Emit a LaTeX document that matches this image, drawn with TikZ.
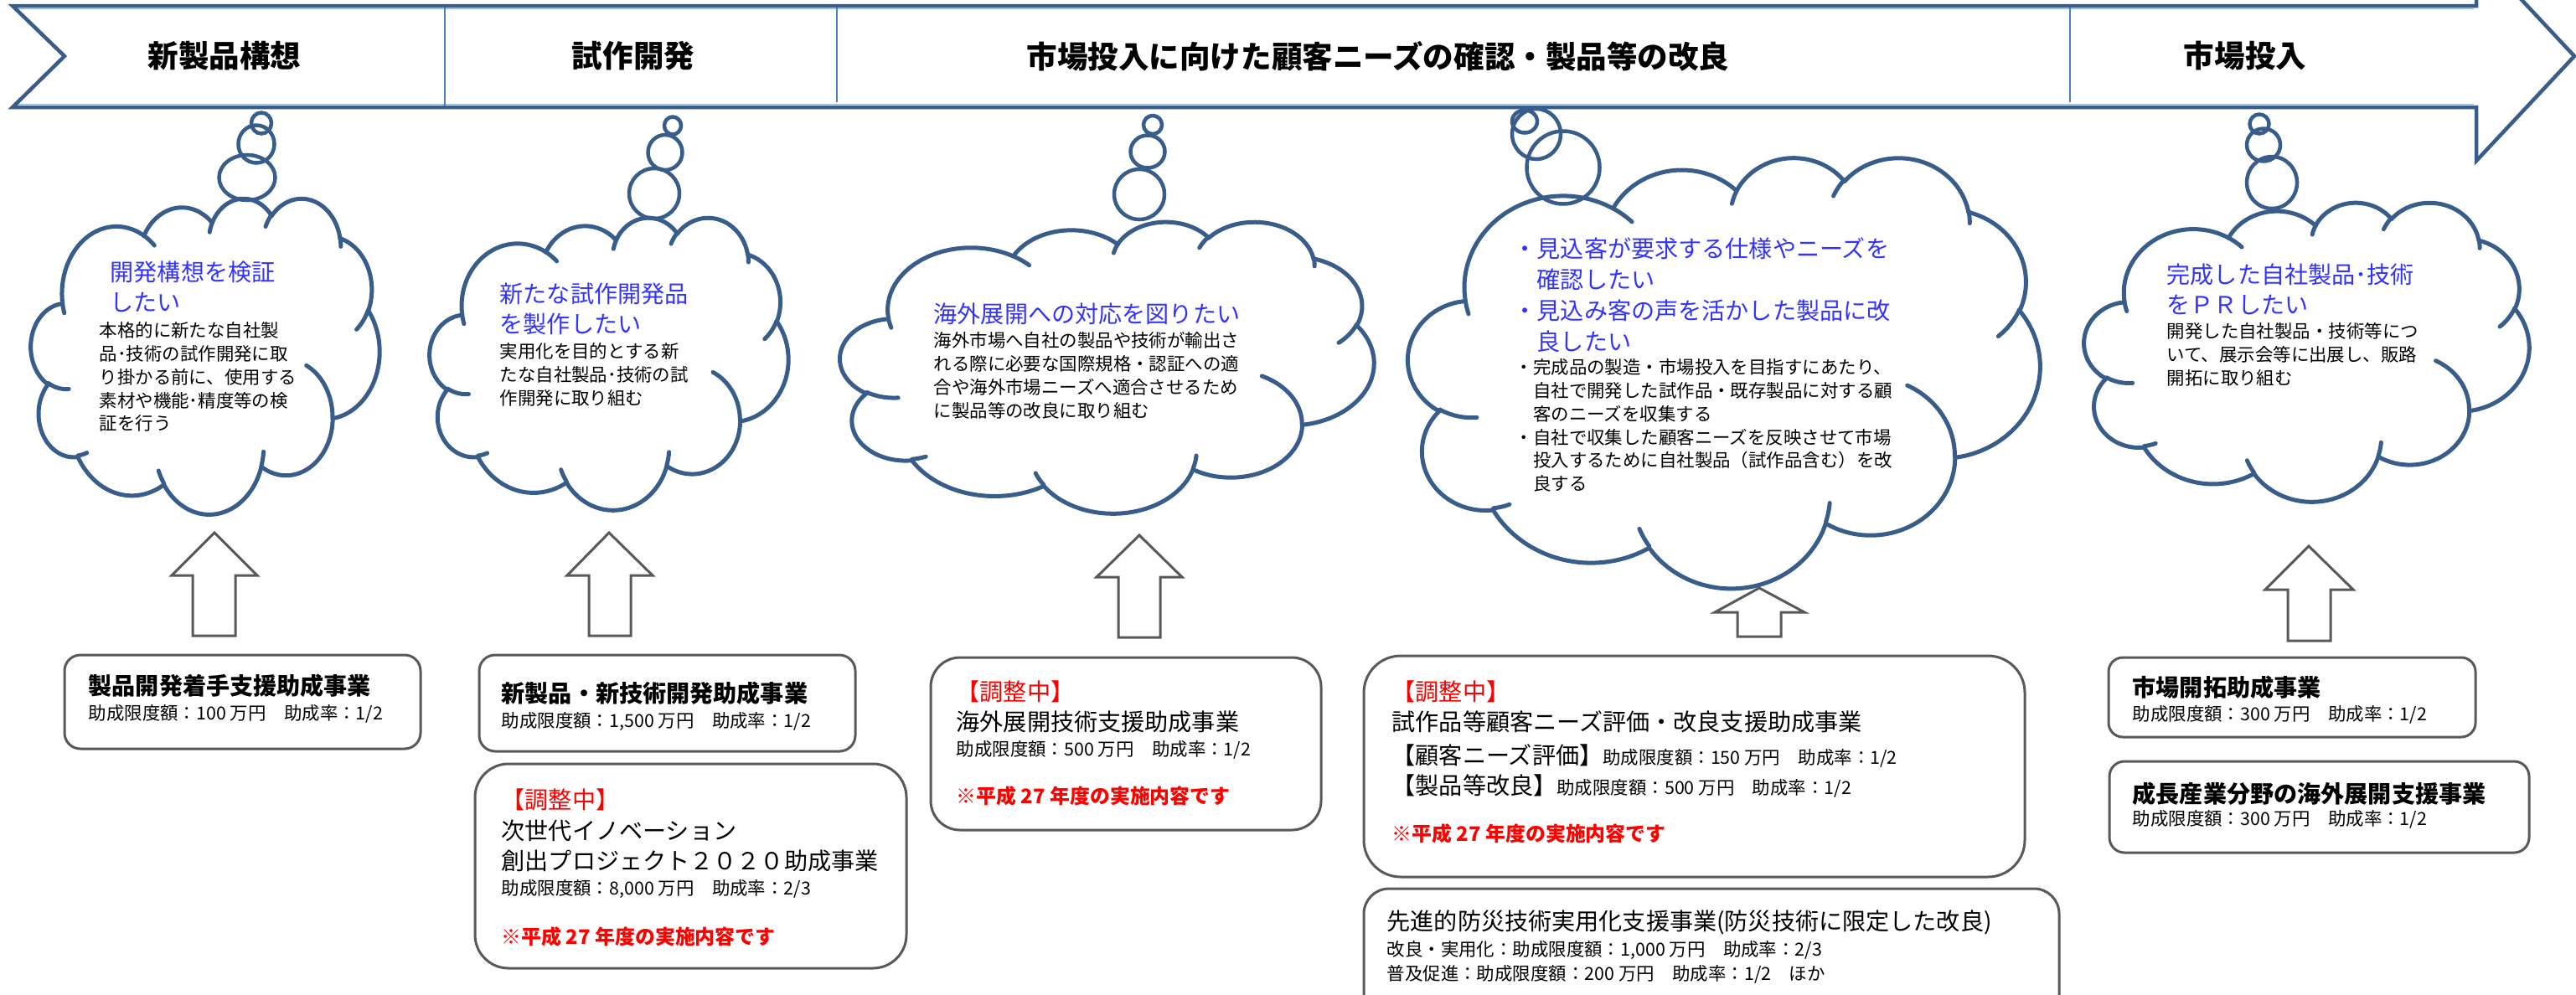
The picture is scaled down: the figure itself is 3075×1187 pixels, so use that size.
\documentclass[tikz,border=0pt]{standalone}
\usepackage{fontspec}
\newfontfamily\jp{Noto Sans CJK JP}
\definecolor{bandline}{RGB}{56,93,138}
\definecolor{bandlight}{RGB}{149,179,215}
\definecolor{divider}{RGB}{79,129,189}
\definecolor{cloudline}{RGB}{56,93,138}
\definecolor{wishblue}{RGB}{51,51,255}
\definecolor{boxgray}{RGB}{89,89,89}
\tikzset{
  phase/.style={inner sep=0, font=\jp\bfseries\fontsize{10.4}{12}\selectfont},
  puff/.style={draw=cloudline, line width=0.5mm, line cap=round},
  bubble/.style={draw=cloudline, line width=0.45mm},
  wish/.style={anchor=north west, inner sep=0, align=left, text=wishblue,
    font=\jp\fontsize{8}{10.4}\selectfont},
  detail/.style={anchor=north west, inner sep=0, align=left,
    font=\jp\fontsize{6.1}{7.9}\selectfont},
  aidbox/.style={draw=boxgray, line width=0.3mm},
  aidname/.style={anchor=north west, inner sep=0, align=left,
    font=\jp\fontsize{8}{10.3}\selectfont},
  aidbold/.style={aidname, font=\jp\bfseries\fontsize{8}{10.3}\selectfont},
  rate/.style={anchor=north west, inner sep=0, align=left,
    font=\jp\fontsize{6.1}{8.3}\selectfont},
  pending/.style={aidname, text=red},
  note/.style={anchor=north west, inner sep=0, text=red,
    font=\jp\bfseries\fontsize{6.8}{8}\selectfont},
  uparrow/.style={draw=boxgray, line width=0.3mm, fill=white}
}
% one puff: start x, start y, x radius, y radius, start angle, sweep
\newcommand\cloudarc[6]{%
  \pgfmathsetmacro\ts{atan2(#3*sin(#5),#4*cos(#5))}%
  \pgfmathsetmacro\te{atan2(#3*sin(#5+#6),#4*cos(#5+#6))}%
  \pgfmathsetmacro\te{\te<\ts ? \te+360 : \te}%
  \pgfmathsetmacro\cx{#1-#3*cos(\ts)}%
  \pgfmathsetmacro\cy{#2-#4*sin(\ts)}%
  \draw[puff] plot[smooth, samples=24, domain=\ts:\te, variable=\u]
    ({\cx+#3*cos(\u)},{\cy+#4*sin(\u)});
  \pgfmathsetmacro\nx{\cx+#3*cos(\te)}%
  \pgfmathsetmacro\ny{\cy+#4*sin(\te)}%
  \xdef\puffx{\nx}\xdef\puffy{\ny}}
% thought cloud in a 43.2 x 43.2 box: left, top, xscale, yscale
\newcommand\thoughtcloud[4]{%
  \begin{scope}[shift={(#1,#2)}, xscale=#3, yscale=#4]
    \xdef\puffx{3.9}\xdef\puffy{14.37}
    \cloudarc{\puffx}{\puffy}{6.753}{9.190}{-190.4875}{123.7805}
    \cloudarc{\puffx}{\puffy}{5.333}{7.267}{-144.1024}{89.9452}
    \cloudarc{\puffx}{\puffy}{4.365}{5.945}{-145.8079}{99.7230}
    \cloudarc{\puffx}{\puffy}{4.857}{6.595}{-130.9861}{117.2417}
    \cloudarc{\puffx}{\puffy}{5.333}{7.273}{-78.7089}{109.0269}
    \cloudarc{\puffx}{\puffy}{6.775}{9.220}{-46.2673}{130.2690}
    \cloudarc{\puffx}{\puffy}{5.785}{7.867}{0.6250}{114.0333}
    \cloudarc{\puffx}{\puffy}{6.752}{9.215}{22.4516}{115.1726}
    \cloudarc{\puffx}{\puffy}{7.720}{10.543}{66.2426}{75.7110}
    \cloudarc{\puffx}{\puffy}{4.360}{5.918}{-274.9421}{146.7356}
    \cloudarc{\puffx}{\puffy}{4.345}{5.945}{-246.8285}{152.5189}
    % inner ends of the puffs
    \cloudarc{4.693}{26.177}{4.345}{5.945}{86.7420}{26.4295}
    \cloudarc{6.928}{34.899}{4.360}{5.918}{73.6105}{11.4475}
    \cloudarc{16.478}{39.090}{6.752}{9.215}{137.6242}{14.0811}
    \cloudarc{28.827}{34.751}{6.752}{9.215}{6.4533}{15.9984}
    \cloudarc{34.129}{22.954}{5.785}{7.867}{-70.2924}{70.9174}
    \cloudarc{41.798}{15.354}{5.333}{7.273}{30.3180}{27.7515}
    \cloudarc{38.324}{5.426}{4.857}{6.595}{-13.7443}{14.8589}
    \cloudarc{29.078}{3.952}{4.857}{6.595}{-149.1815}{18.1954}
    \cloudarc{22.141}{4.720}{4.365}{5.945}{-163.4943}{17.6864}
    \cloudarc{14.000}{5.192}{6.753}{9.190}{-66.7070}{12.3194}
    \cloudarc{4.127}{15.789}{6.753}{9.190}{157.6544}{11.8582}
  \end{scope}}
\begin{document}
\begin{tikzpicture}[x=0.1mm, y=-0.1mm]
  \useasboundingbox (0,0) rectangle (3075,1187);
  % phase band
  \draw[bandline, line width=0.45mm] (15,7) -- (2956,7) -- (2956,-58) -- (3073,67)
    -- (2956,192) -- (2956,128) -- (15,128) -- (77,67) -- cycle;
  \draw[bandlight, line width=0.12mm] (22,10.5) -- (2953,10.5);
  \draw[bandlight, line width=0.12mm] (22,124.5) -- (2953,124.5);
  \draw[divider, line width=0.15mm] (531,9) -- (531,126);
  \draw[divider, line width=0.15mm] (999,9) -- (999,122);
  \draw[divider, line width=0.15mm] (2471,9) -- (2471,122);
  \node[phase] (p1) at (268,67) {新製品構想};
  \node[phase] (p2) at (756,67) {試作開発};
  \node[phase] (p3) at (1645,67) {市場投入に向けた顧客ニーズの確認・製品等の改良};
  \node[phase] (p4) at (2680,67) {市場投入};

  % thought clouds
  \thoughtcloud{37}{236}{9.630}{8.727}
  \thoughtcloud{513}{259}{9.907}{8.079}
  \thoughtcloud{1003}{264}{14.745}{8.056}
  \thoughtcloud{1681}{187}{17.454}{11.898}
  \thoughtcloud{2488}{241}{12.292}{8.264}
  \draw[bubble] (312,147) ellipse [x radius=1.2mm, y radius=1.25mm];
  \draw[bubble] (306,172) ellipse [x radius=2.15mm, y radius=2.25mm];
  \draw[bubble] (295,212) ellipse [x radius=3.35mm, y radius=2.7mm];
  \draw[bubble] (803,150) ellipse [x radius=1.0mm, y radius=1.05mm];
  \draw[bubble] (794,182) ellipse [x radius=2.05mm, y radius=2.1mm];
  \draw[bubble] (781,231) ellipse [x radius=3.0mm, y radius=3.0mm];
  \draw[bubble] (1376,149) ellipse [x radius=1.1mm, y radius=1.1mm];
  \draw[bubble] (1370,181) ellipse [x radius=2.05mm, y radius=1.95mm];
  \draw[bubble] (1360,232) ellipse [x radius=3.0mm, y radius=3.0mm];
  \draw[bubble] (1820,145) ellipse [x radius=1.5mm, y radius=1.35mm];
  \draw[bubble] (1834,160) ellipse [x radius=2.9mm, y radius=3.0mm];
  \draw[bubble] (1866,200) ellipse [x radius=4.35mm, y radius=4.35mm];
  \draw[bubble] (2697,148) ellipse [x radius=1.15mm, y radius=1.15mm];
  \draw[bubble] (2702,173) ellipse [x radius=2.0mm, y radius=1.95mm];
  \draw[bubble] (2712,218) ellipse [x radius=3.0mm, y radius=3.1mm];

  \node[wish] (w1) at (131,311) {開発構想を検証\\したい};
  \node[detail] (d1) at (118,384) {本格的に新たな自社製\\品･技術の試作開発に取\\り掛かる前に、使用する\\素材や機能･精度等の検\\証を行う};
  \node[wish] (w2) at (596,337) {新たな試作開発品\\を製作したい};
  \node[detail] (d2) at (596,409) {実用化を目的とする新\\たな自社製品･技術の試\\作開発に取り組む};
  \node[wish] (w3) at (1114,361) {海外展開への対応を図りたい};
  \node[detail] (d3) at (1114,396) {海外市場へ自社の製品や技術が輸出さ\\れる際に必要な国際規格・認証への適\\合や海外市場ニーズへ適合させるため\\に製品等の改良に取り組む};
  \node[wish, font=\jp\fontsize{8}{10.5}\selectfont] (w4) at (1806,283) {・見込客が要求する仕様やニーズを\\\phantom{・}確認したい\\・見込み客の声を活かした製品に改\\\phantom{・}良したい};
  \node[detail] (d4) at (1808,428) {・完成品の製造・市場投入を目指すにあたり、\\\phantom{・}自社で開発した試作品・既存製品に対する顧\\\phantom{・}客のニーズを収集する\\・自社で収集した顧客ニーズを反映させて市場\\\phantom{・}投入するために自社製品（試作品含む）を改\\\phantom{・}良する};
  \node[wish] (w5) at (2586,314) {完成した自社製品･技術\\をＰＲしたい};
  \node[detail] (d5) at (2586,385) {開発した自社製品・技術等につ\\いて、展示会等に出展し、販路\\開拓に取り組む};

  % up arrows
  \draw[uparrow] (230,759) -- (230,687) -- (205,687) -- (256,636) -- (307,687) -- (281,687) -- (281,759) -- cycle;
  \draw[uparrow] (703,759) -- (703,687) -- (677,687) -- (727,636) -- (779,687) -- (753,687) -- (753,759) -- cycle;
  \draw[uparrow] (1335,761) -- (1335,689) -- (1309,689) -- (1360,639) -- (1411,689) -- (1385,689) -- (1385,761) -- cycle;
  \draw[uparrow] (2074,760) -- (2074,731) -- (2047,731) -- (2100,702) -- (2154,731) -- (2126,731) -- (2126,760) -- cycle;
  \draw[uparrow] (2731,765) -- (2731,704) -- (2704,704) -- (2756,652) -- (2809,704) -- (2782,704) -- (2782,765) -- cycle;

  % aid schemes
  \draw[aidbox, rounded corners=1.9mm] (77,782) rectangle (502,894);
  \node[aidbold] (n1) at (105,804) {製品開発着手支援助成事業};
  \node[rate] (r1) at (105,841) {助成限度額：100 万円　助成率：1/2};

  \draw[aidbox, rounded corners=1.9mm] (572,782) rectangle (1021,897);
  \node[aidbold] (n2) at (598,813) {新製品・新技術開発助成事業};
  \node[rate] (r2) at (598,850) {助成限度額：1,500 万円　助成率：1/2};

  \draw[aidbox, rounded corners=4mm] (567,912) rectangle (1082,1156);
  \node[pending] (k3) at (598,941) {【調整中】};
  \node[aidname] (n3) at (598,978) {次世代イノベーション\\創出プロジェクト２０２０助成事業};
  \node[rate] (r3) at (598,1050) {助成限度額：8,000 万円　助成率：2/3};
  \node[note] (h3) at (598,1106) {※平成 27 年度の実施内容です};

  \draw[aidbox, rounded corners=3.5mm] (1111,785) rectangle (1577,991);
  \node[pending] (k4) at (1141,812) {【調整中】};
  \node[aidname] (n4) at (1141,848) {海外展開技術支援助成事業};
  \node[rate] (r4) at (1141,884) {助成限度額：500 万円　助成率：1/2};
  \node[note] (h4) at (1141,938) {※平成 27 年度の実施内容です};

  \draw[aidbox, rounded corners=4.4mm] (1628,783) rectangle (2417,1047);
  \node[pending] (k5) at (1661,812) {【調整中】};
  \node[aidname] (n5) at (1661,848) {試作品等顧客ニーズ評価・改良支援助成事業};
  \node[rate] (r5a) at (1661,888) {{\fontsize{8}{10}\selectfont 【顧客ニーズ評価】}助成限度額：150 万円　助成率：1/2};
  \node[rate] (r5b) at (1661,924) {{\fontsize{8}{10}\selectfont 【製品等改良】}助成限度額：500 万円　助成率：1/2};
  \node[note] (h5) at (1661,983) {※平成 27 年度の実施内容です};

  \draw[aidbox, rounded corners=3mm] (1628,1061) rectangle (2458,1230);
  \node[aidname] (n6) at (1655,1086) {先進的防災技術実用化支援事業(防災技術に限定した改良)};
  \node[rate] (r6) at (1655,1123) {改良・実用化：助成限度額：1,000 万円　助成率：2/3\\普及促進：助成限度額：200 万円　助成率：1/2　ほか};

  \draw[aidbox, rounded corners=1.7mm] (2517,785) rectangle (2955,880);
  \node[aidbold] (n7) at (2545,806) {市場開拓助成事業};
  \node[rate] (r7) at (2545,842) {助成限度額：300 万円　助成率：1/2};

  \draw[aidbox, rounded corners=1.8mm] (2518,909) rectangle (3019,1018);
  \node[aidbold] (n8) at (2545,933) {成長産業分野の海外展開支援事業};
  \node[rate] (r8) at (2545,967) {助成限度額：300 万円　助成率：1/2};
\end{tikzpicture}
\end{document}
